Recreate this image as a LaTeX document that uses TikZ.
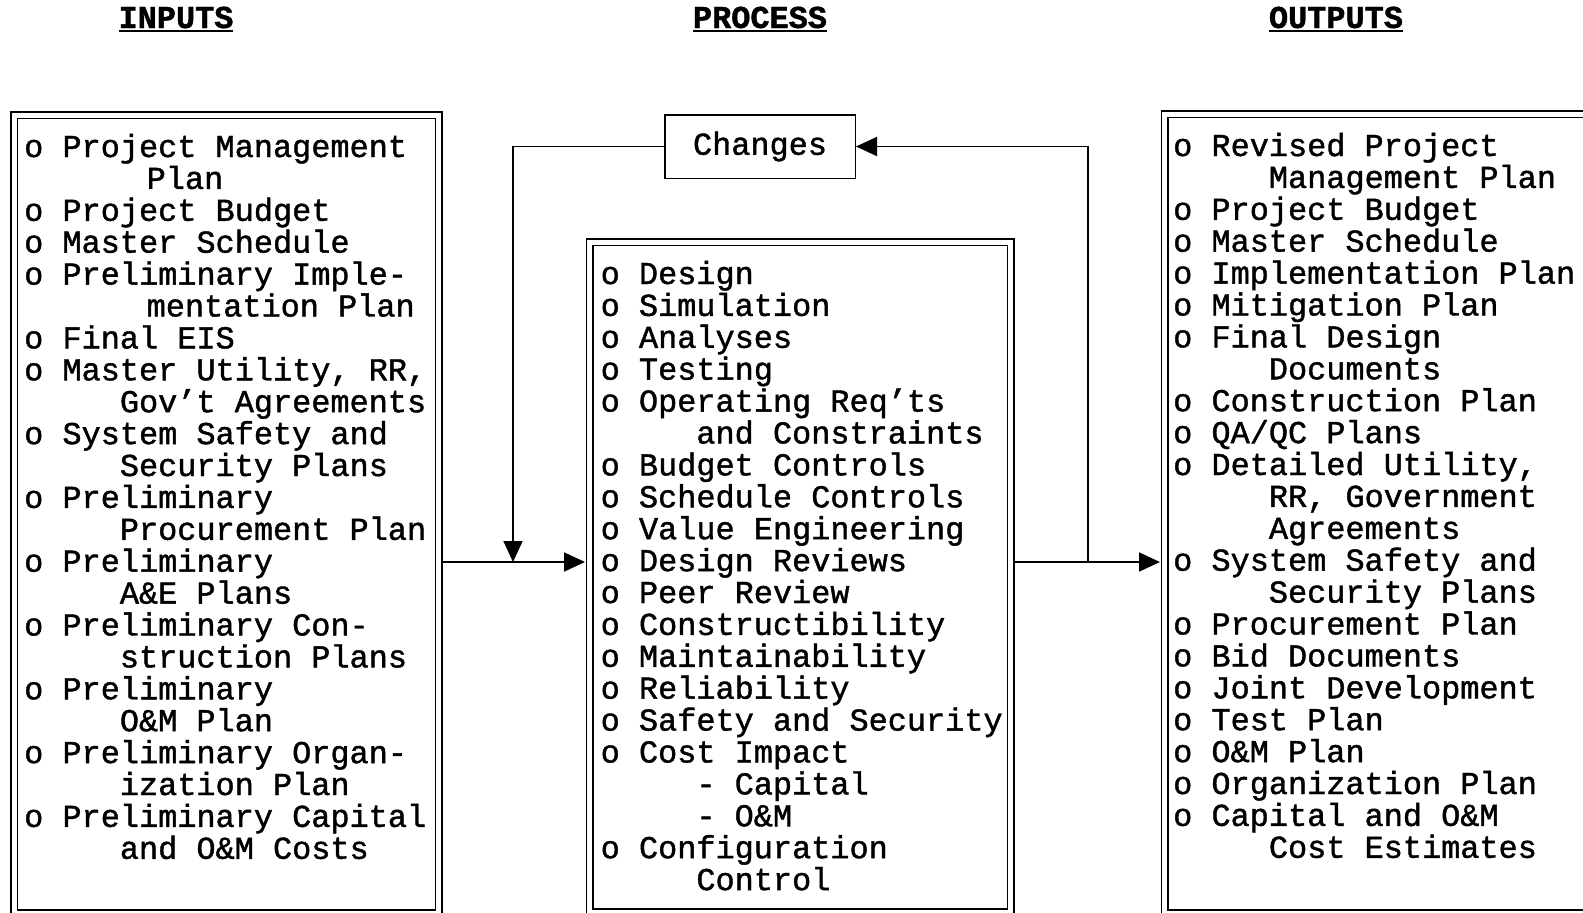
\documentclass[tikz,border=0pt]{standalone}
\usepackage{fontspec}
\usetikzlibrary{arrows.meta}
\newfontfamily\cour[FakeBold=1.3]{Liberation Mono}
\newcommand\txt{\cour\fontsize{31.9pt}{31.9pt}\selectfont}
\newlength\cw
\setlength\cw{19.14pt}
\newcommand\ind[1]{\hspace*{#1\cw}}
\newsavebox\ulbox
\newcommand\ulhead[1]{\sbox\ulbox{#1}\leavevmode\rlap{\usebox\ulbox}\rule[-4pt]{\wd\ulbox}{2pt}}

\tikzset{
  dbox/.style={draw, double, double distance=5pt, line width=1.5pt, outer sep=4.5pt, inner sep=0pt},
  chbox/.style={draw, line width=1.5pt, inner sep=0pt, minimum width=190.5pt, minimum height=63.5pt, font=\txt},
  list/.style={inner sep=0pt, anchor=base west, font=\txt},
  head/.style={inner sep=0pt, anchor=base, font=\txt\bfseries},
  flow/.style={line width=1.8pt, -{Triangle[length=21pt,width=19pt]}},
}

\begin{document}
\begin{tikzpicture}[x=1pt, y=-1pt]
\useasboundingbox (0,0) rectangle (1583,913);
\clip (0,0) rectangle (1583,913);

% column headings
\node[head] (hin)  at (176,28)  {\ulhead{INPUTS}};
\node[head] (hpro) at (760,28)  {\ulhead{PROCESS}};
\node[head] (hout) at (1336,28) {\ulhead{OUTPUTS}};

% the three framed lists
\node[dbox, minimum width=424.5pt, minimum height=798pt] (inp)  at (226.25,514) {};
\node[dbox, minimum width=421pt,   minimum height=670pt] (proc) at (800,577) {};
\node[dbox, minimum width=425.5pt, minimum height=799pt] (outp) at (1377.25,513.5) {};

% feedback box
\node[chbox] (chg) at (760,146.5) {Changes};

% list contents
\node[list] (inptxt) at (24,157) {\begin{minipage}[t]{415pt}
o Project Management\\
\ind{6.4}Plan\\
o Project Budget\\
o Master Schedule\\
o Preliminary Imple-\\
\ind{6.4}mentation Plan\\
o Final EIS\\
o Master Utility, RR,\\
\ind{5}Gov’t Agreements\\
o System Safety and\\
\ind{5}Security Plans\\
o Preliminary\\
\ind{5}Procurement Plan\\
o Preliminary\\
\ind{5}A\&E Plans\\
o Preliminary Con-\\
\ind{5}struction Plans\\
o Preliminary\\
\ind{5}O\&M Plan\\
o Preliminary Organ-\\
\ind{5}ization Plan\\
o Preliminary Capital\\
\ind{5}and O\&M Costs
\end{minipage}};

\node[list] (proctxt) at (600.5,284) {\begin{minipage}[t]{410pt}
o Design\\
o Simulation\\
o Analyses\\
o Testing\\
o Operating Req’ts\\
\ind{5}and Constraints\\
o Budget Controls\\
o Schedule Controls\\
o Value Engineering\\
o Design Reviews\\
o Peer Review\\
o Constructibility\\
o Maintainability\\
o Reliability\\
o Safety and Security\\
o Cost Impact\\
\ind{5}- Capital\\
\ind{5}- O\&M\\
o Configuration\\
\ind{5}Control
\end{minipage}};

\node[list] (outtxt) at (1173,156) {\begin{minipage}[t]{415pt}
o Revised Project\\
\ind{5}Management Plan\\
o Project Budget\\
o Master Schedule\\
o Implementation Plan\\
o Mitigation Plan\\
o Final Design\\
\ind{5}Documents\\
o Construction Plan\\
o QA/QC Plans\\
o Detailed Utility,\\
\ind{5}RR, Government\\
\ind{5}Agreements\\
o System Safety and\\
\ind{5}Security Plans\\
o Procurement Plan\\
o Bid Documents\\
o Joint Development\\
o Test Plan\\
o O\&M Plan\\
o Organization Plan\\
o Capital and O\&M\\
\ind{5}Cost Estimates
\end{minipage}};

% flow connectors
\coordinate (jl) at (513,562);
\coordinate (jr) at (1088,562);
\draw[flow] (inp.east |- jl) -- (proc.west |- jl);
\draw[flow] (chg.west) -| (jl);
\draw[flow] (proc.east |- jr) -- (outp.west |- jr);
\draw[flow] (jr) |- (chg.east);
\end{tikzpicture}
\end{document}
